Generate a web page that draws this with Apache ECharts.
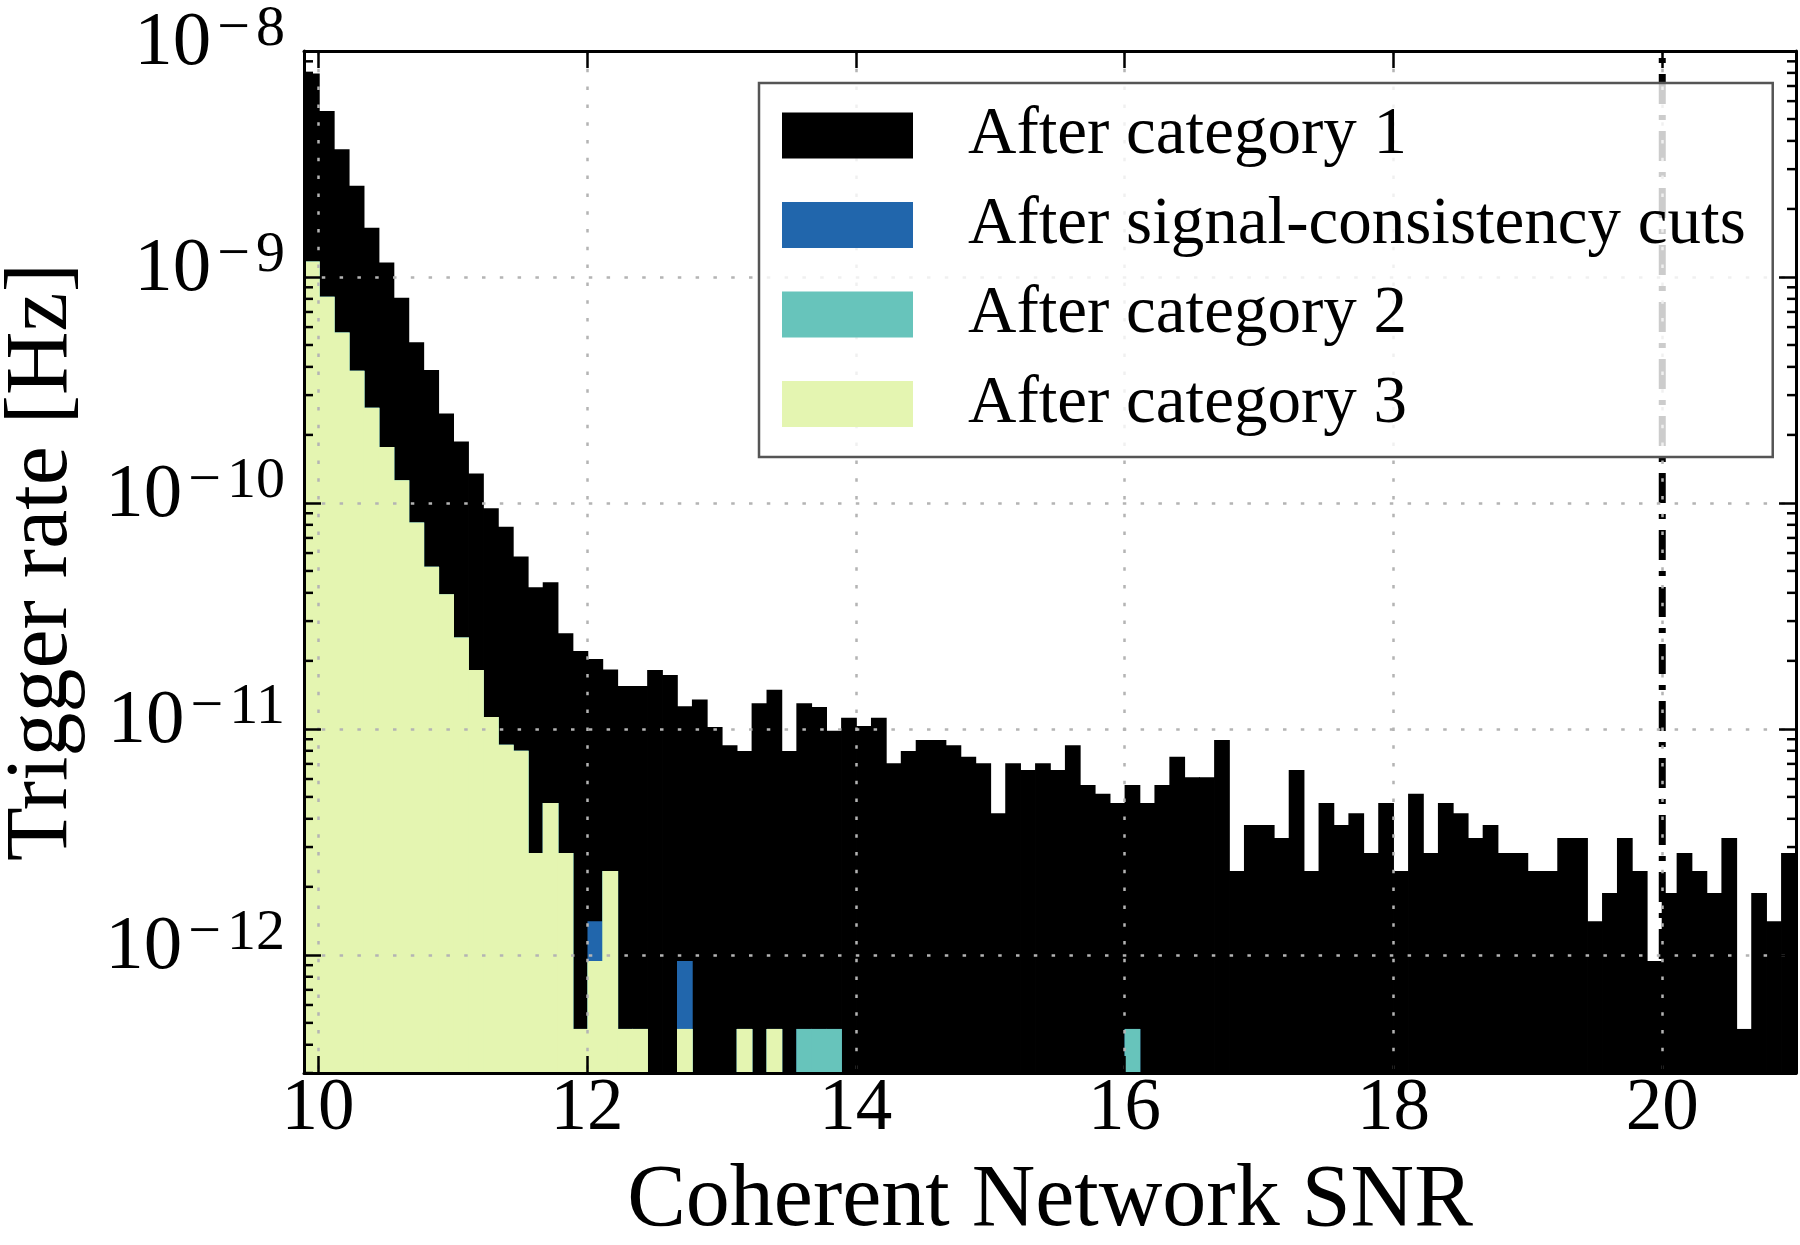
<!DOCTYPE html>
<html><head><meta charset="utf-8">
<script src="https://cdn.jsdelivr.net/npm/echarts@6/dist/echarts.min.js"></script>
<style>html,body{margin:0;padding:0;background:#fff}#c{width:1800px;height:1245px}</style>
</head><body><div id="c"></div>
<script>
// ---- axis ranges / tick labels ----
const X_MIN = 9.895, X_MAX = 20.995, BIN_W = 0.111;
const Y_MIN = 3.0e-13, Y_MAX = 1e-8;
const X_TICKS = [10, 12, 14, 16, 18, 20];
const SNR_THRESHOLD = 20;
const NAMES = ['After category 1', 'After signal-consistency cuts', 'After category 2', 'After category 3'];

// ---- histogram values (trigger rate, Hz) for 100 bins ----
const CAT1 = [
 7.96e-9, 5.43e-9, 3.67e-9, 2.53e-9, 1.65e-9, 1.16e-9, 8.09e-10, 5.14e-10, 3.87e-10, 2.49e-10,
 1.87e-10, 1.35e-10, 9.46e-11, 7.85e-11, 5.79e-11, 4.23e-11, 4.46e-11, 2.65e-11, 2.21e-11, 2.04e-11,
 1.83e-11, 1.55e-11, 1.55e-11, 1.82e-11, 1.73e-11, 1.26e-11, 1.35e-11, 1.02e-11, 8.46e-12, 7.99e-12,
 1.30e-11, 1.49e-11, 7.99e-12, 1.30e-11, 1.25e-11, 9.8e-12, 1.12e-11, 1.03e-11, 1.12e-11, 7.05e-12,
 7.99e-12, 8.93e-12, 8.93e-12, 8.46e-12, 7.52e-12, 7.05e-12, 4.23e-12, 7.05e-12, 6.58e-12, 7.05e-12,
 6.58e-12, 8.46e-12, 5.64e-12, 5.17e-12, 4.7e-12, 5.64e-12, 4.7e-12, 5.64e-12, 7.52e-12, 6.11e-12,
 6.11e-12, 8.93e-12, 2.35e-12, 3.76e-12, 3.76e-12, 3.29e-12, 6.58e-12, 2.35e-12, 4.7e-12, 3.76e-12,
 4.23e-12, 2.82e-12, 4.7e-12, 2.35e-12, 5.17e-12, 2.82e-12, 4.7e-12, 4.23e-12, 3.29e-12, 3.76e-12,
 2.82e-12, 2.82e-12, 2.35e-12, 2.35e-12, 3.29e-12, 3.29e-12, 1.41e-12, 1.88e-12, 3.29e-12, 2.35e-12,
 9.4e-13, 1.88e-12, 2.82e-12, 2.35e-12, 1.88e-12, 3.29e-12, 4.7e-13, 1.88e-12, 1.41e-12, 2.82e-12
];
const SIG = [
 1.17e-9, 8.18e-10, 5.68e-10, 3.85e-10, 2.64e-10, 1.77e-10, 1.26e-10, 8.2e-11, 5.22e-11, 3.94e-11,
 2.54e-11, 1.82e-11, 1.13e-11, 8.5e-12, 8.0e-12, 2.82e-12, 4.7e-12, 2.82e-12, 4.7e-13, 1.41e-12,
 2.35e-12, 4.7e-13, 4.7e-13, 0, 0, 9.4e-13, 0, 0, 0, 4.7e-13,
 0, 4.7e-13, 0, 4.7e-13, 4.7e-13, 4.7e-13, 0, 0, 0, 0,
 0, 0, 0, 0, 0, 0, 0, 0, 0, 0,
 0, 0, 0, 0, 0, 4.7e-13, 0, 0, 0, 0,
 0, 0, 0, 0, 0, 0, 0, 0, 0, 0,
 0, 0, 0, 0, 0, 0, 0, 0, 0, 0,
 0, 0, 0, 0, 0, 0, 0, 0, 0, 0,
 0, 0, 0, 0, 0, 0, 0, 0, 0, 0
];
const CAT2 = [
 1.17e-9, 8.18e-10, 5.68e-10, 3.85e-10, 2.64e-10, 1.77e-10, 1.26e-10, 8.2e-11, 5.22e-11, 3.94e-11,
 2.54e-11, 1.82e-11, 1.13e-11, 8.5e-12, 8.0e-12, 2.82e-12, 4.7e-12, 2.82e-12, 4.7e-13, 9.4e-13,
 2.35e-12, 4.7e-13, 4.7e-13, 0, 0, 4.7e-13, 0, 0, 0, 4.7e-13,
 0, 4.7e-13, 0, 4.7e-13, 4.7e-13, 4.7e-13, 0, 0, 0, 0,
 0, 0, 0, 0, 0, 0, 0, 0, 0, 0,
 0, 0, 0, 0, 0, 4.7e-13, 0, 0, 0, 0,
 0, 0, 0, 0, 0, 0, 0, 0, 0, 0,
 0, 0, 0, 0, 0, 0, 0, 0, 0, 0,
 0, 0, 0, 0, 0, 0, 0, 0, 0, 0,
 0, 0, 0, 0, 0, 0, 0, 0, 0, 0
];
const CAT3 = [
 1.17e-9, 8.18e-10, 5.68e-10, 3.85e-10, 2.64e-10, 1.77e-10, 1.26e-10, 8.2e-11, 5.22e-11, 3.94e-11,
 2.54e-11, 1.82e-11, 1.13e-11, 8.5e-12, 8.0e-12, 2.82e-12, 4.7e-12, 2.82e-12, 4.7e-13, 9.4e-13,
 2.35e-12, 4.7e-13, 4.7e-13, 0, 0, 4.7e-13, 0, 0, 0, 4.7e-13,
 0, 4.7e-13, 0, 0, 0, 0, 0, 0, 0, 0,
 0, 0, 0, 0, 0, 0, 0, 0, 0, 0,
 0, 0, 0, 0, 0, 0, 0, 0, 0, 0,
 0, 0, 0, 0, 0, 0, 0, 0, 0, 0,
 0, 0, 0, 0, 0, 0, 0, 0, 0, 0,
 0, 0, 0, 0, 0, 0, 0, 0, 0, 0,
 0, 0, 0, 0, 0, 0, 0, 0, 0, 0
];
const COLORS = ['#000000', '#2166ac', '#67c4bb', '#e4f5b1'];

// bin left edges (histogram bin definition)
const BIN_LEFT = CAT1.map((_, i) => X_MIN + i * BIN_W);
// log minor tick values
const MINOR_Y = [];
for (let e = -13; e <= -9; e++) for (let k = 2; k <= 9; k++) {
  const v = k * Math.pow(10, e);
  if (v > Y_MIN && v < Y_MAX) MINOR_Y.push(v);
}

const FONT = 'Liberation Serif';
const chart = echarts.init(document.getElementById('c'), null, {renderer: 'canvas'});

function histSeries(name, arr, color, z) {
  return {
    name, type: 'custom', coordinateSystem: 'cartesian2d', xAxisIndex: 0, yAxisIndex: 0,
    z, clip: true, silent: true,
    itemStyle: {color},
    data: BIN_LEFT.map((x, i) => [x, arr[i] > 0 ? arr[i] : null]),
    encode: {x: 0, y: 1},
    renderItem(params, api) {
      const x0 = api.value(0), v = api.value(1);
      if (!(v > 0)) return null;
      const pTop = api.coord([x0, v]);
      const pBot = api.coord([x0 + BIN_W, Y_MIN]);
      return {
        type: 'rect',
        shape: {x: pTop[0], y: pTop[1], width: pBot[0] - pTop[0] + 0.8, height: pBot[1] - pTop[1]},
        style: {fill: color, stroke: null}
      };
    }
  };
}

function yLabel(v) {
  const e = Math.log10(v);
  const r = Math.round(e);
  if (Math.abs(e - r) > 1e-6) return '';
  return '{a|10}{c|\u2212}{b|' + (-r) + '}';
}

const tickStyle = {show: true, inside: true, length: 17, lineStyle: {color: '#000', width: 2.5}};
const lineStyle = {show: true, lineStyle: {color: '#000', width: 3}};
const gridLine = {show: true, lineStyle: {color: '#b4b4b4', width: 2.5, type: [3.5, 14.3]}};

chart.setOption({
  animation: false,
  backgroundColor: '#fff',
  grid: {left: 304, right: 4, top: 51, bottom: 172, containLabel: false, outerBoundsMode: 'none'},
  legend: {
    orient: 'vertical', left: 759, top: 83,
    data: NAMES, icon: 'rect', itemWidth: 131, itemHeight: 46, itemGap: 22.5,
    padding: [19, 27, 19.5, 23],
    backgroundColor: 'rgba(255,255,255,0.8)', borderColor: '#555', borderWidth: 2.5, borderRadius: 0,
    selectedMode: false, z: 10,
    textStyle: {fontFamily: FONT, fontSize: 67, color: '#000', padding: [0, 0, 0, 50]}
  },
  xAxis: [{
    type: 'value', min: X_MIN, max: X_MAX, splitNumber: 5, position: 'bottom', z: 5,
    axisLine: lineStyle, axisTick: tickStyle, splitLine: gridLine,
    axisLabel: {
      margin: 0, fontFamily: FONT, fontSize: 73, color: '#000',
      showMinLabel: true, showMaxLabel: true,
      formatter: v => X_TICKS.some(t => Math.abs(t - v) < 1e-6) ? String(Math.round(v)) : ''
    },
    name: 'Coherent Network SNR', nameLocation: 'middle', nameGap: 85,
    nameTextStyle: {fontFamily: FONT, fontSize: 88, color: '#000'}
  }, {
    type: 'value', min: X_MIN, max: X_MAX, splitNumber: 5, position: 'top', z: 5,
    axisLine: lineStyle, axisTick: tickStyle, splitLine: {show: false}, axisLabel: {show: false}
  }],
  yAxis: [{
    type: 'log', logBase: 10, min: Y_MIN, max: Y_MAX, splitNumber: 5, position: 'left', z: 5,
    axisLine: lineStyle, axisTick: tickStyle, splitLine: gridLine,
    axisLabel: {
      margin: 19, color: '#000', padding: [0, 0, 14, 0],
      formatter: yLabel,
      rich: {
        a: {fontFamily: FONT, fontSize: 77, lineHeight: 86, color: '#000'},
        c: {fontFamily: FONT, fontSize: 58, lineHeight: 48, verticalAlign: 'top', color: '#000', padding: [0, 6, 0, 6]},
        b: {fontFamily: FONT, fontSize: 58, lineHeight: 48, verticalAlign: 'top', color: '#000'}
      }
    },
    name: 'Trigger rate [Hz]', nameLocation: 'middle', nameGap: 217,
    nameTextStyle: {fontFamily: FONT, fontSize: 88, color: '#000'}
  }, {
    type: 'log', logBase: 10, min: Y_MIN, max: Y_MAX, splitNumber: 5, position: 'right', z: 5,
    axisLine: lineStyle, axisTick: tickStyle, splitLine: {show: false}, axisLabel: {show: false}
  }],
  series: [
    histSeries(NAMES[0], CAT1, COLORS[0], 1),
    histSeries(NAMES[1], SIG, COLORS[1], 2),
    histSeries(NAMES[2], CAT2, COLORS[2], 3),
    histSeries(NAMES[3], CAT3, COLORS[3], 4),
    {
      name: 'threshold', type: 'line', xAxisIndex: 0, yAxisIndex: 0, z: 4.5, silent: true,
      symbol: 'none', data: [[SNR_THRESHOLD, Y_MIN], [SNR_THRESHOLD, Y_MAX]],
      lineStyle: {color: '#000', width: 7, type: [30, 11, 5, 11]}
    },
    {
      name: 'minorTicks', type: 'custom', coordinateSystem: 'cartesian2d', xAxisIndex: 0, yAxisIndex: 0,
      z: 6, silent: true, data: MINOR_Y.map(v => [X_MIN, v]), encode: {x: 0, y: 1},
      renderItem(params, api) {
        const v = api.value(1);
        const pl = api.coord([X_MIN, v]);
        const pr = api.coord([X_MAX, v]);
        const st = {stroke: '#000', lineWidth: 2.5};
        return {type: 'group', children: [
          {type: 'line', shape: {x1: pl[0], y1: pl[1], x2: pl[0] + 9, y2: pl[1]}, style: st},
          {type: 'line', shape: {x1: pr[0] - 9, y1: pr[1], x2: pr[0], y2: pr[1]}, style: st}
        ]};
      }
    }
  ]
});
</script></body></html>
